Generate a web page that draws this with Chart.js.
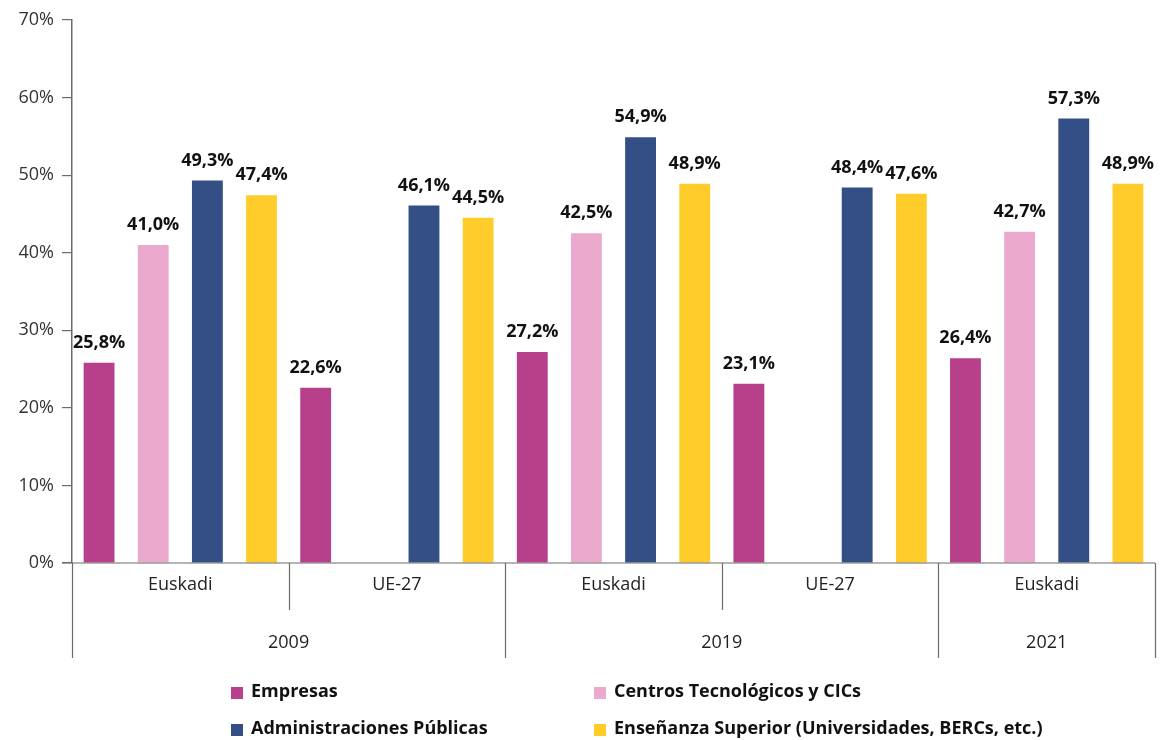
<!DOCTYPE html>
<html>
<head>
<meta charset="utf-8">
<script src="https://cdn.jsdelivr.net/npm/chart.js@4/dist/chart.umd.min.js"></script>
<style>
  html, body { margin: 0; padding: 0; background: #fff; }
  #wrap { width: 1166px; height: 740px; }
</style>
</head>
<body>
<div id="wrap"><canvas id="myChart" width="1166" height="740"></canvas></div>
<script>
// categories (region / year)
var regions = ["Euskadi", "UE-27", "Euskadi", "UE-27", "Euskadi"];
var years = ["2009", "2019", "2021"];
var yearSpans = [2, 2, 1]; // how many regions belong to each year

// series values (%)
var empresas = [25.8, 22.6, 27.2, 23.1, 26.4];
var centros = [41.0, null, 42.5, null, 42.7];
var administraciones = [49.3, 46.1, 54.9, 48.4, 57.3];
var ensenanza = [47.4, 44.5, 48.9, 47.6, 48.9];

var seriesNames = ["Empresas", "Centros Tecnológicos y CICs", "Administraciones Públicas",
    "Enseñanza Superior (Universidades, BERCs, etc.)"];
var seriesColors = ["#B8408A", "#EBAACD", "#334F85", "#FFCC29"];

var yTicks = [0, 10, 20, 30, 40, 50, 60, 70];

var FONT = "'Open Sans', 'Noto Sans', sans-serif";
var LINE = "#6b6b6b";

function fmt(v) {
    return v.toFixed(1).replace(".", ",") + "%";
}

// value labels, category labels and legend
var extras = {
    id: "extras",
    afterDatasetsDraw: function (chart) {
        var ctx = chart.ctx;
        ctx.save();
        ctx.fillStyle = "#111";
        ctx.font = "bold 18px " + FONT;
        ctx.textAlign = "center";
        ctx.textBaseline = "middle";
        chart.data.datasets.forEach(function (ds, i) {
            var meta = chart.getDatasetMeta(i);
            meta.data.forEach(function (bar, j) {
                var v = ds.data[j];
                if (v == null) return;
                ctx.fillText(fmt(v), bar.x, bar.y - 20);
            });
        });
        ctx.restore();
    },
    afterDraw: function (chart) {
        var ctx = chart.ctx;
        var area = chart.chartArea;
        var x = chart.scales.x;
        var n = regions.length;
        var step = (area.right - area.left) / n;
        var base = area.bottom;

        ctx.save();
        ctx.strokeStyle = LINE;
        ctx.lineWidth = 1.2;

        // baseline
        ctx.beginPath();
        ctx.moveTo(area.left - 10, base);
        ctx.lineTo(area.right, base);
        ctx.stroke();

        // boundaries: short ones between regions, long ones between years
        var yearEdges = [0];
        var acc = 0;
        yearSpans.forEach(function (s) { acc += s; yearEdges.push(acc); });
        for (var k = 0; k <= n; k++) {
            var bx = Math.round(area.left + k * step) + 0.5;
            var long = yearEdges.indexOf(k) >= 0;
            ctx.beginPath();
            ctx.moveTo(bx, base);
            ctx.lineTo(bx, base + (long ? 95 : 47));
            ctx.stroke();
        }

        ctx.fillStyle = "#222";
        ctx.font = "18px " + FONT;
        ctx.textAlign = "center";
        ctx.textBaseline = "middle";
        regions.forEach(function (r, k) {
            ctx.fillText(r, x.getPixelForValue(k), base + 22);
        });
        years.forEach(function (y, k) {
            var a = area.left + yearEdges[k] * step;
            var b = area.left + yearEdges[k + 1] * step;
            ctx.fillText(y, (a + b) / 2, base + 80);
        });

        // legend, two columns
        var cols = [231, 594];
        var rows = [692, 729];
        ctx.font = "bold 18px " + FONT;
        ctx.textAlign = "left";
        seriesNames.forEach(function (name, i) {
            var cx = cols[i % 2];
            var cy = rows[Math.floor(i / 2)];
            ctx.fillStyle = seriesColors[i];
            ctx.fillRect(cx, cy - 5, 12, 12);
            ctx.fillStyle = "#111";
            ctx.fillText(name, cx + 20, cy);
        });
        ctx.restore();
    }
};

var series = [empresas, centros, administraciones, ensenanza];

var ctx = document.getElementById("myChart").getContext("2d");
var myChart = new Chart(ctx, {
    type: "bar",
    data: {
        labels: regions,
        datasets: series.map(function (d, i) {
            return {
                label: seriesNames[i],
                data: d,
                backgroundColor: seriesColors[i],
                borderWidth: 0,
                categoryPercentage: 1.0,
                barPercentage: 0.57
            };
        })
    },
    options: {
        responsive: false,
        animation: false,
        layout: { padding: { left: 0, right: 11, top: 20, bottom: 177 } },
        plugins: {
            legend: { display: false },
            tooltip: { enabled: false }
        },
        scales: {
            x: {
                ticks: { display: false },
                grid: { display: false },
                border: { display: false },
                afterFit: function (scale) { scale.height = 0; }
            },
            y: {
                min: 0,
                max: 70,
                afterBuildTicks: function (scale) {
                    scale.ticks = yTicks.map(function (v) { return { value: v }; });
                },
                ticks: {
                    padding: 8,
                    color: "#333",
                    font: { family: FONT, size: 18 },
                    callback: function (v) { return v + "%"; }
                },
                grid: {
                    drawOnChartArea: false,
                    drawTicks: true,
                    tickLength: 10,
                    color: LINE,
                    lineWidth: 1.2
                },
                border: { display: true, color: LINE, width: 1.5 },
                afterFit: function (scale) { scale.width = 72; }
            }
        }
    },
    plugins: [extras]
});
</script>
</body>
</html>
